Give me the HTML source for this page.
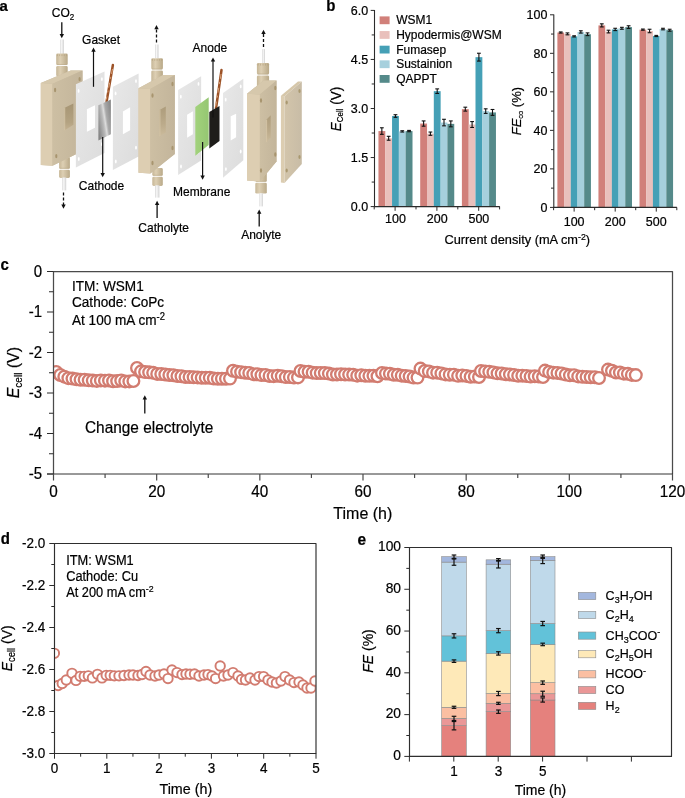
<!DOCTYPE html>
<html><head><meta charset="utf-8"><style>
html,body{margin:0;padding:0;background:#fff;}
svg{display:block;will-change:transform;}
text{font-family:"Liberation Sans", sans-serif;fill:#000;stroke:#000;stroke-width:0.2px;}
</style></head><body>
<svg width="685" height="798" viewBox="0 0 685 798" font-family="Liberation Sans, sans-serif">
<rect width="685" height="798" fill="#fff"/>
<defs>
<linearGradient id="gBeige" x1="0" y1="0" x2="1" y2="0"><stop offset="0" stop-color="#cdbfa3"/><stop offset="1" stop-color="#c3b59b"/></linearGradient>
<linearGradient id="gWin2" x1="0" y1="0" x2="0" y2="1"><stop offset="0" stop-color="#ad9c7b"/><stop offset="0.6" stop-color="#bcab8b"/><stop offset="1" stop-color="#cbbb9c"/></linearGradient>
<linearGradient id="gWin" x1="0" y1="0" x2="0" y2="1"><stop offset="0" stop-color="#a69574"/><stop offset="0.7" stop-color="#b4a382"/><stop offset="1" stop-color="#c4b292"/></linearGradient>
<linearGradient id="gPlate" x1="0" y1="0" x2="1" y2="0"><stop offset="0" stop-color="#d3c5ab"/><stop offset="1" stop-color="#c8bca6"/></linearGradient>
<linearGradient id="gFit" x1="0" y1="0" x2="1" y2="0"><stop offset="0" stop-color="#c6b696"/><stop offset="0.35" stop-color="#ddcfb3"/><stop offset="1" stop-color="#b9a988"/></linearGradient>
<linearGradient id="gTube" x1="0" y1="0" x2="1" y2="0"><stop offset="0" stop-color="#d8d8d8"/><stop offset="0.4" stop-color="#f8f8f8"/><stop offset="1" stop-color="#d0d0d0"/></linearGradient>
<linearGradient id="gGasket" x1="0" y1="0" x2="1" y2="1"><stop offset="0" stop-color="#e8e8e8"/><stop offset="1" stop-color="#dcdcdc"/></linearGradient>
<linearGradient id="gCath" x1="0" y1="0.75" x2="1" y2="0.25"><stop offset="0" stop-color="#858585"/><stop offset="0.38" stop-color="#b9b9b9"/><stop offset="0.52" stop-color="#dcdcdc"/><stop offset="0.66" stop-color="#aaaaaa"/><stop offset="1" stop-color="#8a8a8a"/></linearGradient>
<linearGradient id="gMem" x1="0" y1="0" x2="1" y2="0"><stop offset="0" stop-color="#a2d27c"/><stop offset="1" stop-color="#95c672"/></linearGradient>
</defs>
<g>
<text transform="translate(-0.40,10.90) scale(1,1.030)" font-size="15" text-anchor="start" font-weight="bold">a</text>
<rect x="60.20" y="39.50" width="3.70" height="15.00" fill="url(#gTube)"/>
<rect x="56.20" y="53.50" width="11.50" height="11.60" rx="1.4" fill="url(#gFit)"/>
<rect x="56.20" y="66.00" width="11.50" height="10.50" rx="1.4" fill="url(#gFit)"/>
<rect x="56.70" y="64.10" width="10.50" height="1.0" fill="#bcab8a" opacity="0.6"/>
<line x1="57.35" y1="54.30" x2="57.35" y2="56.10" stroke="#b09e7b" stroke-width="0.6" />
<line x1="59.65" y1="54.30" x2="59.65" y2="56.10" stroke="#b09e7b" stroke-width="0.6" />
<line x1="61.95" y1="54.30" x2="61.95" y2="56.10" stroke="#b09e7b" stroke-width="0.6" />
<line x1="64.25" y1="54.30" x2="64.25" y2="56.10" stroke="#b09e7b" stroke-width="0.6" />
<line x1="66.55" y1="54.30" x2="66.55" y2="56.10" stroke="#b09e7b" stroke-width="0.6" />
<rect x="59.10" y="157.00" width="10.80" height="11.80" rx="1.4" fill="url(#gFit)"/>
<rect x="59.10" y="169.70" width="10.80" height="8.30" rx="1.4" fill="url(#gFit)"/>
<rect x="59.60" y="167.80" width="9.80" height="1.0" fill="#bcab8a" opacity="0.6"/>
<rect x="62.20" y="177.50" width="4.00" height="12.90" fill="url(#gTube)"/>
<polygon points="40.80,83.00 70.80,70.60 82.50,70.60 82.50,151.00 52.50,165.80 40.80,165.00" fill="#cbbda2" />
<polygon points="40.80,83.00 52.50,83.80 52.50,165.80 40.80,165.00" fill="#ddceb2" />
<polygon points="40.80,83.00 70.80,70.60 82.50,70.60 52.50,83.80" fill="#d6c8ac" />
<polygon points="52.50,83.80 82.50,70.60 82.50,151.00 52.50,165.80" fill="url(#gBeige)" />
<polygon points="64.20,108.00 73.40,103.60 73.40,124.80 64.20,130.60" fill="url(#gWin)" />
<polygon points="64.20,108.00 65.20,107.60 65.20,130.20 64.20,130.60" fill="#d3c4a6" />
<ellipse cx="55.10" cy="90.00" rx="1.1" ry="2.2" fill="#a8956f"/>
<ellipse cx="79.60" cy="79.10" rx="1.1" ry="2.2" fill="#a8956f"/>
<ellipse cx="56.30" cy="156.10" rx="1.1" ry="2.2" fill="#a8956f"/>
<ellipse cx="79.50" cy="145.00" rx="1.1" ry="2.2" fill="#a8956f"/>
<polygon points="75.90,84.30 104.50,71.50 104.50,153.00 75.90,167.60" fill="url(#gGasket)" />
<polygon points="86.90,109.30 95.00,105.20 95.00,127.70 86.90,131.80" fill="#ffffff" />
<ellipse cx="78.60" cy="90.90" rx="0.9" ry="1.9" fill="#ffffff"/>
<ellipse cx="101.90" cy="79.10" rx="0.9" ry="1.9" fill="#ffffff"/>
<ellipse cx="78.80" cy="159.00" rx="0.9" ry="1.9" fill="#ffffff"/>
<ellipse cx="101.90" cy="144.20" rx="0.9" ry="1.9" fill="#ffffff"/>
<line x1="112.9" y1="65.0" x2="106.6" y2="101.6" stroke="#9c5227" stroke-width="2.5" stroke-linecap="round"/>
<line x1="112.5" y1="69.0" x2="106.19999999999999" y2="99.6" stroke="#e6b38a" stroke-width="0.9" stroke-dasharray="5,3,2,4" opacity="0.9"/>
<polygon points="98.40,105.20 110.90,99.60 110.90,134.30 98.40,140.50" fill="url(#gCath)" />
<polygon points="112.90,86.80 138.60,73.50 138.60,156.50 112.90,170.10" fill="url(#gGasket)" />
<polygon points="122.90,111.40 130.10,107.30 130.10,130.30 122.90,134.30" fill="#ffffff" />
<ellipse cx="115.60" cy="93.40" rx="0.9" ry="1.9" fill="#ffffff"/>
<ellipse cx="136.00" cy="81.10" rx="0.9" ry="1.9" fill="#ffffff"/>
<ellipse cx="115.80" cy="161.50" rx="0.9" ry="1.9" fill="#ffffff"/>
<ellipse cx="136.00" cy="147.70" rx="0.9" ry="1.9" fill="#ffffff"/>
<rect x="155.00" y="44.50" width="3.50" height="14.00" fill="url(#gTube)"/>
<rect x="151.30" y="58.20" width="11.60" height="11.30" rx="1.4" fill="url(#gFit)"/>
<rect x="151.30" y="70.40" width="11.60" height="11.60" rx="1.4" fill="url(#gFit)"/>
<rect x="151.80" y="68.50" width="10.60" height="1.0" fill="#bcab8a" opacity="0.6"/>
<line x1="152.46" y1="59.00" x2="152.46" y2="60.80" stroke="#b09e7b" stroke-width="0.6" />
<line x1="154.78" y1="59.00" x2="154.78" y2="60.80" stroke="#b09e7b" stroke-width="0.6" />
<line x1="157.10" y1="59.00" x2="157.10" y2="60.80" stroke="#b09e7b" stroke-width="0.6" />
<line x1="159.42" y1="59.00" x2="159.42" y2="60.80" stroke="#b09e7b" stroke-width="0.6" />
<line x1="161.74" y1="59.00" x2="161.74" y2="60.80" stroke="#b09e7b" stroke-width="0.6" />
<rect x="152.30" y="168.00" width="10.50" height="7.80" rx="1.4" fill="url(#gFit)"/>
<rect x="152.30" y="176.70" width="10.50" height="9.30" rx="1.4" fill="url(#gFit)"/>
<rect x="152.80" y="174.80" width="9.50" height="1.0" fill="#bcab8a" opacity="0.6"/>
<rect x="155.00" y="185.30" width="4.40" height="12.30" fill="url(#gTube)"/>
<polygon points="138.50,88.20 163.00,74.90 174.80,74.90 174.80,154.00 150.30,173.60 138.50,172.80" fill="#cbbda2" />
<polygon points="138.50,88.20 150.30,89.00 150.30,173.60 138.50,172.80" fill="#ddceb2" />
<polygon points="138.50,88.20 163.00,74.90 174.80,74.90 150.30,89.00" fill="#d6c8ac" />
<polygon points="150.30,89.00 174.80,74.90 174.80,154.00 150.30,173.60" fill="url(#gBeige)" />
<polygon points="159.40,110.00 165.80,106.60 165.80,132.50 159.40,136.20" fill="url(#gWin2)" />
<polygon points="159.40,110.00 160.40,109.60 160.40,135.80 159.40,136.20" fill="#d3c4a6" />
<ellipse cx="152.50" cy="95.50" rx="1.1" ry="2.2" fill="#a8956f"/>
<ellipse cx="172.50" cy="84.00" rx="1.1" ry="2.2" fill="#a8956f"/>
<ellipse cx="152.50" cy="163.00" rx="1.1" ry="2.2" fill="#a8956f"/>
<ellipse cx="172.50" cy="148.00" rx="1.1" ry="2.2" fill="#a8956f"/>
<polygon points="178.10,90.10 201.10,76.30 201.10,160.50 178.10,175.10" fill="url(#gGasket)" />
<polygon points="187.10,114.80 192.90,111.20 192.90,134.20 187.10,137.80" fill="#ffffff" />
<ellipse cx="180.80" cy="96.70" rx="0.9" ry="1.9" fill="#ffffff"/>
<ellipse cx="198.50" cy="83.90" rx="0.9" ry="1.9" fill="#ffffff"/>
<ellipse cx="181.00" cy="166.50" rx="0.9" ry="1.9" fill="#ffffff"/>
<ellipse cx="198.50" cy="151.70" rx="0.9" ry="1.9" fill="#ffffff"/>
<polygon points="195.30,106.90 208.70,97.20 208.70,145.00 195.30,155.70" fill="url(#gMem)" />
<line x1="221.5" y1="70.0" x2="216.0" y2="108.5" stroke="#9c5227" stroke-width="2.5" stroke-linecap="round"/>
<line x1="221.1" y1="74.0" x2="215.6" y2="106.5" stroke="#e6b38a" stroke-width="0.9" stroke-dasharray="5,3,2,4" opacity="0.9"/>
<polygon points="209.30,112.00 219.50,105.90 219.50,140.90 209.30,148.50" fill="#1e1d1a" />
<polygon points="223.00,93.10 243.30,78.80 243.30,160.30 223.00,177.70" fill="url(#gGasket)" />
<polygon points="230.70,116.30 236.10,113.80 236.10,137.30 230.70,140.40" fill="#ffffff" />
<ellipse cx="225.70" cy="99.70" rx="0.9" ry="1.9" fill="#ffffff"/>
<ellipse cx="240.70" cy="86.40" rx="0.9" ry="1.9" fill="#ffffff"/>
<ellipse cx="225.90" cy="169.10" rx="0.9" ry="1.9" fill="#ffffff"/>
<ellipse cx="240.70" cy="151.50" rx="0.9" ry="1.9" fill="#ffffff"/>
<rect x="262.00" y="49.10" width="3.00" height="14.40" fill="url(#gTube)"/>
<rect x="256.90" y="62.90" width="12.20" height="11.60" rx="1.4" fill="url(#gFit)"/>
<rect x="256.90" y="75.40" width="12.20" height="12.10" rx="1.4" fill="url(#gFit)"/>
<rect x="257.40" y="73.50" width="11.20" height="1.0" fill="#bcab8a" opacity="0.6"/>
<line x1="258.12" y1="63.70" x2="258.12" y2="65.50" stroke="#b09e7b" stroke-width="0.6" />
<line x1="260.56" y1="63.70" x2="260.56" y2="65.50" stroke="#b09e7b" stroke-width="0.6" />
<line x1="263.00" y1="63.70" x2="263.00" y2="65.50" stroke="#b09e7b" stroke-width="0.6" />
<line x1="265.44" y1="63.70" x2="265.44" y2="65.50" stroke="#b09e7b" stroke-width="0.6" />
<line x1="267.88" y1="63.70" x2="267.88" y2="65.50" stroke="#b09e7b" stroke-width="0.6" />
<rect x="255.30" y="172.00" width="11.50" height="9.80" rx="1.4" fill="url(#gFit)"/>
<rect x="255.30" y="182.70" width="11.50" height="10.90" rx="1.4" fill="url(#gFit)"/>
<rect x="255.80" y="180.80" width="10.50" height="1.0" fill="#bcab8a" opacity="0.6"/>
<rect x="259.40" y="193.40" width="3.50" height="13.00" fill="url(#gTube)"/>
<polygon points="247.00,93.70 263.60,80.60 276.50,80.60 276.50,161.50 259.90,181.40 247.00,180.60" fill="#cbbda2" />
<polygon points="247.00,93.70 259.90,94.50 259.90,181.40 247.00,180.60" fill="#ddceb2" />
<polygon points="247.00,93.70 263.60,80.60 276.50,80.60 259.90,94.50" fill="#d6c8ac" />
<polygon points="259.90,94.50 276.50,80.60 276.50,161.50 259.90,181.40" fill="url(#gBeige)" />
<polygon points="266.10,119.90 270.70,115.30 270.70,137.20 266.10,142.30" fill="url(#gWin2)" />
<polygon points="266.10,119.90 267.10,119.50 267.10,141.90 266.10,142.30" fill="#d3c4a6" />
<ellipse cx="261.00" cy="100.50" rx="1.1" ry="2.2" fill="#a8956f"/>
<ellipse cx="275.30" cy="88.00" rx="1.1" ry="2.2" fill="#a8956f"/>
<ellipse cx="261.00" cy="170.50" rx="1.1" ry="2.2" fill="#a8956f"/>
<ellipse cx="275.30" cy="154.50" rx="1.1" ry="2.2" fill="#a8956f"/>
<polygon points="280.90,95.80 284.50,96.30 284.50,183.10 280.90,182.40" fill="#dccdb1" />
<polygon points="280.90,95.80 298.00,81.50 301.80,81.50 284.50,96.30" fill="#d6c7aa" />
<polygon points="284.50,96.30 301.80,81.50 301.80,164.00 284.50,183.10" fill="url(#gPlate)" />
<ellipse cx="286.7" cy="102.5" rx="1.1" ry="2.0" fill="#a99870"/>
<ellipse cx="299.5" cy="91.0" rx="1.1" ry="2.0" fill="#a99870"/>
<ellipse cx="286.7" cy="170.5" rx="1.1" ry="2.0" fill="#a99870"/>
<ellipse cx="299.5" cy="157.0" rx="1.1" ry="2.0" fill="#a99870"/>
<line x1="61.80" y1="22.20" x2="61.80" y2="34.94" stroke="#111" stroke-width="1.3" />
<polygon points="59.60,34.10 64.00,34.10 61.80,38.30" fill="#111" />
<line x1="93.50" y1="86.80" x2="93.50" y2="50.86" stroke="#111" stroke-width="1.2" />
<polygon points="91.30,51.70 95.70,51.70 93.50,47.50" fill="#111" />
<line x1="102.70" y1="137.00" x2="102.70" y2="173.84" stroke="#111" stroke-width="1.2" />
<polygon points="100.50,173.00 104.90,173.00 102.70,177.20" fill="#111" />
<line x1="63.50" y1="192.50" x2="63.50" y2="205.44" stroke="#111" stroke-width="1.3" stroke-dasharray="3,2"/>
<polygon points="61.30,204.60 65.70,204.60 63.50,208.80" fill="#111" />
<line x1="156.50" y1="42.60" x2="156.50" y2="28.36" stroke="#111" stroke-width="1.3" stroke-dasharray="3,2"/>
<polygon points="154.30,29.20 158.70,29.20 156.50,25.00" fill="#111" />
<line x1="157.10" y1="218.00" x2="157.10" y2="204.06" stroke="#111" stroke-width="1.3" />
<polygon points="154.90,204.90 159.30,204.90 157.10,200.70" fill="#111" />
<line x1="213.00" y1="117.40" x2="213.00" y2="60.76" stroke="#111" stroke-width="1.2" />
<polygon points="210.80,61.60 215.20,61.60 213.00,57.40" fill="#111" />
<line x1="202.60" y1="141.90" x2="202.60" y2="176.34" stroke="#111" stroke-width="1.2" />
<polygon points="200.40,175.50 204.80,175.50 202.60,179.70" fill="#111" />
<line x1="263.50" y1="47.10" x2="263.50" y2="33.06" stroke="#111" stroke-width="1.3" stroke-dasharray="3,2"/>
<polygon points="261.30,33.90 265.70,33.90 263.50,29.70" fill="#111" />
<line x1="259.20" y1="226.50" x2="259.20" y2="212.86" stroke="#111" stroke-width="1.3" />
<polygon points="257.00,213.70 261.40,213.70 259.20,209.50" fill="#111" />
<text transform="translate(51.80,17.30) scale(1,1.030)" font-size="12" text-anchor="start" >CO<tspan font-size="8" dy="3">2</tspan></text>
<text transform="translate(82.10,43.60) scale(1,1.030)" font-size="12" text-anchor="start" >Gasket</text>
<text transform="translate(78.80,190.40) scale(1,1.030)" font-size="12" text-anchor="start" >Cathode</text>
<text transform="translate(138.30,231.60) scale(1,1.030)" font-size="12" text-anchor="start" >Catholyte</text>
<text transform="translate(192.60,52.10) scale(1,1.030)" font-size="12" text-anchor="start" >Anode</text>
<text transform="translate(173.00,196.30) scale(1,1.030)" font-size="12" text-anchor="start" >Membrane</text>
<text transform="translate(241.20,238.70) scale(1,1.030)" font-size="12" text-anchor="start" >Anolyte</text>
</g>
<text transform="translate(326.30,11.20) scale(1,1.040)" font-size="15" text-anchor="start" font-weight="bold">b</text>
<rect x="378.45" y="131.06" width="6.85" height="75.54" fill="#d1807a"/>
<rect x="385.25" y="138.26" width="6.85" height="68.34" fill="#e9c0bc"/>
<rect x="392.05" y="116.02" width="6.85" height="90.58" fill="#45a0b6"/>
<rect x="398.85" y="131.39" width="6.85" height="75.21" fill="#a6d0dd"/>
<rect x="405.65" y="131.06" width="6.85" height="75.54" fill="#558a8a"/>
<line x1="381.85" y1="127.79" x2="381.85" y2="134.33" stroke="#111" stroke-width="1.1" />
<line x1="379.95" y1="127.79" x2="383.75" y2="127.79" stroke="#111" stroke-width="1.1" />
<line x1="379.95" y1="134.33" x2="383.75" y2="134.33" stroke="#111" stroke-width="1.1" />
<line x1="388.65" y1="136.30" x2="388.65" y2="140.22" stroke="#111" stroke-width="1.1" />
<line x1="386.75" y1="136.30" x2="390.55" y2="136.30" stroke="#111" stroke-width="1.1" />
<line x1="386.75" y1="140.22" x2="390.55" y2="140.22" stroke="#111" stroke-width="1.1" />
<line x1="395.45" y1="114.71" x2="395.45" y2="117.33" stroke="#111" stroke-width="1.1" />
<line x1="393.55" y1="114.71" x2="397.35" y2="114.71" stroke="#111" stroke-width="1.1" />
<line x1="393.55" y1="117.33" x2="397.35" y2="117.33" stroke="#111" stroke-width="1.1" />
<line x1="402.25" y1="130.74" x2="402.25" y2="132.04" stroke="#111" stroke-width="1.1" />
<line x1="400.35" y1="130.74" x2="404.15" y2="130.74" stroke="#111" stroke-width="1.1" />
<line x1="400.35" y1="132.04" x2="404.15" y2="132.04" stroke="#111" stroke-width="1.1" />
<line x1="409.05" y1="130.41" x2="409.05" y2="131.72" stroke="#111" stroke-width="1.1" />
<line x1="407.15" y1="130.41" x2="410.95" y2="130.41" stroke="#111" stroke-width="1.1" />
<line x1="407.15" y1="131.72" x2="410.95" y2="131.72" stroke="#111" stroke-width="1.1" />
<rect x="420.20" y="123.54" width="6.85" height="83.06" fill="#d1807a"/>
<rect x="427.00" y="133.68" width="6.85" height="72.92" fill="#e9c0bc"/>
<rect x="433.80" y="91.17" width="6.85" height="115.43" fill="#45a0b6"/>
<rect x="440.60" y="122.56" width="6.85" height="84.04" fill="#a6d0dd"/>
<rect x="447.40" y="123.87" width="6.85" height="82.73" fill="#558a8a"/>
<line x1="423.60" y1="120.93" x2="423.60" y2="126.16" stroke="#111" stroke-width="1.1" />
<line x1="421.70" y1="120.93" x2="425.50" y2="120.93" stroke="#111" stroke-width="1.1" />
<line x1="421.70" y1="126.16" x2="425.50" y2="126.16" stroke="#111" stroke-width="1.1" />
<line x1="430.40" y1="132.04" x2="430.40" y2="135.31" stroke="#111" stroke-width="1.1" />
<line x1="428.50" y1="132.04" x2="432.30" y2="132.04" stroke="#111" stroke-width="1.1" />
<line x1="428.50" y1="135.31" x2="432.30" y2="135.31" stroke="#111" stroke-width="1.1" />
<line x1="437.20" y1="88.88" x2="437.20" y2="93.46" stroke="#111" stroke-width="1.1" />
<line x1="435.30" y1="88.88" x2="439.10" y2="88.88" stroke="#111" stroke-width="1.1" />
<line x1="435.30" y1="93.46" x2="439.10" y2="93.46" stroke="#111" stroke-width="1.1" />
<line x1="444.00" y1="119.29" x2="444.00" y2="125.83" stroke="#111" stroke-width="1.1" />
<line x1="442.10" y1="119.29" x2="445.90" y2="119.29" stroke="#111" stroke-width="1.1" />
<line x1="442.10" y1="125.83" x2="445.90" y2="125.83" stroke="#111" stroke-width="1.1" />
<line x1="450.80" y1="120.93" x2="450.80" y2="126.81" stroke="#111" stroke-width="1.1" />
<line x1="448.90" y1="120.93" x2="452.70" y2="120.93" stroke="#111" stroke-width="1.1" />
<line x1="448.90" y1="126.81" x2="452.70" y2="126.81" stroke="#111" stroke-width="1.1" />
<rect x="461.90" y="109.15" width="6.85" height="97.45" fill="#d1807a"/>
<rect x="468.70" y="124.52" width="6.85" height="82.08" fill="#e9c0bc"/>
<rect x="475.50" y="57.16" width="6.85" height="149.44" fill="#45a0b6"/>
<rect x="482.30" y="111.12" width="6.85" height="95.48" fill="#a6d0dd"/>
<rect x="489.10" y="112.42" width="6.85" height="94.18" fill="#558a8a"/>
<line x1="465.30" y1="107.19" x2="465.30" y2="111.12" stroke="#111" stroke-width="1.1" />
<line x1="463.40" y1="107.19" x2="467.20" y2="107.19" stroke="#111" stroke-width="1.1" />
<line x1="463.40" y1="111.12" x2="467.20" y2="111.12" stroke="#111" stroke-width="1.1" />
<line x1="472.10" y1="121.58" x2="472.10" y2="127.47" stroke="#111" stroke-width="1.1" />
<line x1="470.20" y1="121.58" x2="474.00" y2="121.58" stroke="#111" stroke-width="1.1" />
<line x1="470.20" y1="127.47" x2="474.00" y2="127.47" stroke="#111" stroke-width="1.1" />
<line x1="478.90" y1="53.24" x2="478.90" y2="61.09" stroke="#111" stroke-width="1.1" />
<line x1="477.00" y1="53.24" x2="480.80" y2="53.24" stroke="#111" stroke-width="1.1" />
<line x1="477.00" y1="61.09" x2="480.80" y2="61.09" stroke="#111" stroke-width="1.1" />
<line x1="485.70" y1="108.83" x2="485.70" y2="113.41" stroke="#111" stroke-width="1.1" />
<line x1="483.80" y1="108.83" x2="487.60" y2="108.83" stroke="#111" stroke-width="1.1" />
<line x1="483.80" y1="113.41" x2="487.60" y2="113.41" stroke="#111" stroke-width="1.1" />
<line x1="492.50" y1="109.48" x2="492.50" y2="115.37" stroke="#111" stroke-width="1.1" />
<line x1="490.60" y1="109.48" x2="494.40" y2="109.48" stroke="#111" stroke-width="1.1" />
<line x1="490.60" y1="115.37" x2="494.40" y2="115.37" stroke="#111" stroke-width="1.1" />
<line x1="374.50" y1="10.00" x2="374.50" y2="207.10" stroke="#2b2b2b" stroke-width="1.1" />
<line x1="374.00" y1="206.60" x2="499.80" y2="206.60" stroke="#2b2b2b" stroke-width="1.1" />
<line x1="370.70" y1="206.60" x2="374.50" y2="206.60" stroke="#2b2b2b" stroke-width="1.0" />
<text transform="translate(368.20,211.00) scale(1,1.040)" font-size="12.5" text-anchor="end" >0.0</text>
<line x1="371.70" y1="182.07" x2="374.50" y2="182.07" stroke="#2b2b2b" stroke-width="1.0" />
<line x1="370.70" y1="157.55" x2="374.50" y2="157.55" stroke="#2b2b2b" stroke-width="1.0" />
<text transform="translate(368.20,161.95) scale(1,1.040)" font-size="12.5" text-anchor="end" >1.5</text>
<line x1="371.70" y1="133.03" x2="374.50" y2="133.03" stroke="#2b2b2b" stroke-width="1.0" />
<line x1="370.70" y1="108.50" x2="374.50" y2="108.50" stroke="#2b2b2b" stroke-width="1.0" />
<text transform="translate(368.20,112.90) scale(1,1.040)" font-size="12.5" text-anchor="end" >3.0</text>
<line x1="371.70" y1="83.98" x2="374.50" y2="83.98" stroke="#2b2b2b" stroke-width="1.0" />
<line x1="370.70" y1="59.45" x2="374.50" y2="59.45" stroke="#2b2b2b" stroke-width="1.0" />
<text transform="translate(368.20,63.85) scale(1,1.040)" font-size="12.5" text-anchor="end" >4.5</text>
<line x1="371.70" y1="34.93" x2="374.50" y2="34.93" stroke="#2b2b2b" stroke-width="1.0" />
<line x1="370.70" y1="10.40" x2="374.50" y2="10.40" stroke="#2b2b2b" stroke-width="1.0" />
<text transform="translate(368.20,14.80) scale(1,1.040)" font-size="12.5" text-anchor="end" >6.0</text>
<line x1="374.20" y1="206.60" x2="374.20" y2="209.40" stroke="#2b2b2b" stroke-width="1.0" />
<line x1="395.10" y1="206.60" x2="395.10" y2="210.80" stroke="#2b2b2b" stroke-width="1.0" />
<line x1="416.00" y1="206.60" x2="416.00" y2="209.40" stroke="#2b2b2b" stroke-width="1.0" />
<line x1="436.90" y1="206.60" x2="436.90" y2="210.80" stroke="#2b2b2b" stroke-width="1.0" />
<line x1="457.80" y1="206.60" x2="457.80" y2="209.40" stroke="#2b2b2b" stroke-width="1.0" />
<line x1="478.70" y1="206.60" x2="478.70" y2="210.80" stroke="#2b2b2b" stroke-width="1.0" />
<line x1="499.60" y1="206.60" x2="499.60" y2="209.40" stroke="#2b2b2b" stroke-width="1.0" />
<text transform="translate(395.45,223.30) scale(1,1.040)" font-size="12.5" text-anchor="middle" >100</text>
<text transform="translate(437.20,223.30) scale(1,1.040)" font-size="12.5" text-anchor="middle" >200</text>
<text transform="translate(478.90,223.30) scale(1,1.040)" font-size="12.5" text-anchor="middle" >500</text>
<text transform="translate(340.60,109.00) rotate(-90) scale(1,1.040)" font-size="13.5" text-anchor="middle" ><tspan font-style="italic">E</tspan><tspan font-size="8" dy="2.5">Cell</tspan><tspan dy="-2.5"> (V)</tspan></text>
<rect x="379.6" y="16.40" width="10" height="7.8" fill="#d1807a"/>
<text transform="translate(396.20,24.40) scale(1,1.040)" font-size="12.0" text-anchor="start" >WSM1</text>
<rect x="379.6" y="31.05" width="10" height="7.8" fill="#e9c0bc"/>
<text transform="translate(396.20,39.05) scale(1,1.040)" font-size="12.0" text-anchor="start" >Hypodermis@WSM</text>
<rect x="379.6" y="45.70" width="10" height="7.8" fill="#45a0b6"/>
<text transform="translate(396.20,53.70) scale(1,1.040)" font-size="12.0" text-anchor="start" >Fumasep</text>
<rect x="379.6" y="60.35" width="10" height="7.8" fill="#a6d0dd"/>
<text transform="translate(396.20,68.35) scale(1,1.040)" font-size="12.0" text-anchor="start" >Sustainion</text>
<rect x="379.6" y="75.00" width="10" height="7.8" fill="#558a8a"/>
<text transform="translate(396.20,83.00) scale(1,1.040)" font-size="12.0" text-anchor="start" >QAPPT</text>
<rect x="557.38" y="32.52" width="6.75" height="174.88" fill="#d1807a"/>
<rect x="564.08" y="33.87" width="6.75" height="173.53" fill="#e9c0bc"/>
<rect x="570.78" y="36.37" width="6.75" height="171.03" fill="#45a0b6"/>
<rect x="577.48" y="31.94" width="6.75" height="175.46" fill="#a6d0dd"/>
<rect x="584.18" y="34.25" width="6.75" height="173.15" fill="#558a8a"/>
<line x1="560.73" y1="31.94" x2="560.73" y2="33.10" stroke="#111" stroke-width="1.1" />
<line x1="558.83" y1="31.94" x2="562.63" y2="31.94" stroke="#111" stroke-width="1.1" />
<line x1="558.83" y1="33.10" x2="562.63" y2="33.10" stroke="#111" stroke-width="1.1" />
<line x1="567.43" y1="32.90" x2="567.43" y2="34.83" stroke="#111" stroke-width="1.1" />
<line x1="565.53" y1="32.90" x2="569.33" y2="32.90" stroke="#111" stroke-width="1.1" />
<line x1="565.53" y1="34.83" x2="569.33" y2="34.83" stroke="#111" stroke-width="1.1" />
<line x1="574.13" y1="35.79" x2="574.13" y2="36.95" stroke="#111" stroke-width="1.1" />
<line x1="572.23" y1="35.79" x2="576.03" y2="35.79" stroke="#111" stroke-width="1.1" />
<line x1="572.23" y1="36.95" x2="576.03" y2="36.95" stroke="#111" stroke-width="1.1" />
<line x1="580.83" y1="30.79" x2="580.83" y2="33.10" stroke="#111" stroke-width="1.1" />
<line x1="578.93" y1="30.79" x2="582.73" y2="30.79" stroke="#111" stroke-width="1.1" />
<line x1="578.93" y1="33.10" x2="582.73" y2="33.10" stroke="#111" stroke-width="1.1" />
<line x1="587.53" y1="32.90" x2="587.53" y2="35.60" stroke="#111" stroke-width="1.1" />
<line x1="585.63" y1="32.90" x2="589.43" y2="32.90" stroke="#111" stroke-width="1.1" />
<line x1="585.63" y1="35.60" x2="589.43" y2="35.60" stroke="#111" stroke-width="1.1" />
<rect x="598.45" y="25.39" width="6.75" height="182.01" fill="#d1807a"/>
<rect x="605.15" y="31.56" width="6.75" height="175.84" fill="#e9c0bc"/>
<rect x="611.85" y="29.44" width="6.75" height="177.96" fill="#45a0b6"/>
<rect x="618.55" y="28.28" width="6.75" height="179.12" fill="#a6d0dd"/>
<rect x="625.25" y="27.13" width="6.75" height="180.27" fill="#558a8a"/>
<line x1="601.80" y1="23.85" x2="601.80" y2="26.93" stroke="#111" stroke-width="1.1" />
<line x1="599.90" y1="23.85" x2="603.70" y2="23.85" stroke="#111" stroke-width="1.1" />
<line x1="599.90" y1="26.93" x2="603.70" y2="26.93" stroke="#111" stroke-width="1.1" />
<line x1="608.50" y1="30.21" x2="608.50" y2="32.90" stroke="#111" stroke-width="1.1" />
<line x1="606.60" y1="30.21" x2="610.40" y2="30.21" stroke="#111" stroke-width="1.1" />
<line x1="606.60" y1="32.90" x2="610.40" y2="32.90" stroke="#111" stroke-width="1.1" />
<line x1="615.20" y1="28.28" x2="615.20" y2="30.59" stroke="#111" stroke-width="1.1" />
<line x1="613.30" y1="28.28" x2="617.10" y2="28.28" stroke="#111" stroke-width="1.1" />
<line x1="613.30" y1="30.59" x2="617.10" y2="30.59" stroke="#111" stroke-width="1.1" />
<line x1="621.90" y1="27.32" x2="621.90" y2="29.25" stroke="#111" stroke-width="1.1" />
<line x1="620.00" y1="27.32" x2="623.80" y2="27.32" stroke="#111" stroke-width="1.1" />
<line x1="620.00" y1="29.25" x2="623.80" y2="29.25" stroke="#111" stroke-width="1.1" />
<line x1="628.60" y1="25.78" x2="628.60" y2="28.47" stroke="#111" stroke-width="1.1" />
<line x1="626.70" y1="25.78" x2="630.50" y2="25.78" stroke="#111" stroke-width="1.1" />
<line x1="626.70" y1="28.47" x2="630.50" y2="28.47" stroke="#111" stroke-width="1.1" />
<rect x="639.52" y="29.63" width="6.75" height="177.77" fill="#d1807a"/>
<rect x="646.22" y="30.98" width="6.75" height="176.42" fill="#e9c0bc"/>
<rect x="652.92" y="35.99" width="6.75" height="171.41" fill="#45a0b6"/>
<rect x="659.62" y="29.05" width="6.75" height="178.35" fill="#a6d0dd"/>
<rect x="666.32" y="30.21" width="6.75" height="177.19" fill="#558a8a"/>
<line x1="642.87" y1="29.05" x2="642.87" y2="30.21" stroke="#111" stroke-width="1.1" />
<line x1="640.97" y1="29.05" x2="644.77" y2="29.05" stroke="#111" stroke-width="1.1" />
<line x1="640.97" y1="30.21" x2="644.77" y2="30.21" stroke="#111" stroke-width="1.1" />
<line x1="649.57" y1="29.25" x2="649.57" y2="32.71" stroke="#111" stroke-width="1.1" />
<line x1="647.67" y1="29.25" x2="651.47" y2="29.25" stroke="#111" stroke-width="1.1" />
<line x1="647.67" y1="32.71" x2="651.47" y2="32.71" stroke="#111" stroke-width="1.1" />
<line x1="656.27" y1="35.41" x2="656.27" y2="36.56" stroke="#111" stroke-width="1.1" />
<line x1="654.37" y1="35.41" x2="658.17" y2="35.41" stroke="#111" stroke-width="1.1" />
<line x1="654.37" y1="36.56" x2="658.17" y2="36.56" stroke="#111" stroke-width="1.1" />
<line x1="662.97" y1="28.28" x2="662.97" y2="29.82" stroke="#111" stroke-width="1.1" />
<line x1="661.07" y1="28.28" x2="664.87" y2="28.28" stroke="#111" stroke-width="1.1" />
<line x1="661.07" y1="29.82" x2="664.87" y2="29.82" stroke="#111" stroke-width="1.1" />
<line x1="669.67" y1="29.25" x2="669.67" y2="31.17" stroke="#111" stroke-width="1.1" />
<line x1="667.77" y1="29.25" x2="671.57" y2="29.25" stroke="#111" stroke-width="1.1" />
<line x1="667.77" y1="31.17" x2="671.57" y2="31.17" stroke="#111" stroke-width="1.1" />
<line x1="553.80" y1="14.40" x2="553.80" y2="207.90" stroke="#2b2b2b" stroke-width="1.1" />
<line x1="553.30" y1="207.40" x2="676.90" y2="207.40" stroke="#2b2b2b" stroke-width="1.1" />
<line x1="550.00" y1="207.40" x2="553.80" y2="207.40" stroke="#2b2b2b" stroke-width="1.0" />
<text transform="translate(547.40,211.80) scale(1,1.040)" font-size="12.5" text-anchor="end" >0</text>
<line x1="551.00" y1="188.14" x2="553.80" y2="188.14" stroke="#2b2b2b" stroke-width="1.0" />
<line x1="550.00" y1="168.88" x2="553.80" y2="168.88" stroke="#2b2b2b" stroke-width="1.0" />
<text transform="translate(547.40,173.28) scale(1,1.040)" font-size="12.5" text-anchor="end" >20</text>
<line x1="551.00" y1="149.62" x2="553.80" y2="149.62" stroke="#2b2b2b" stroke-width="1.0" />
<line x1="550.00" y1="130.36" x2="553.80" y2="130.36" stroke="#2b2b2b" stroke-width="1.0" />
<text transform="translate(547.40,134.76) scale(1,1.040)" font-size="12.5" text-anchor="end" >40</text>
<line x1="551.00" y1="111.10" x2="553.80" y2="111.10" stroke="#2b2b2b" stroke-width="1.0" />
<line x1="550.00" y1="91.84" x2="553.80" y2="91.84" stroke="#2b2b2b" stroke-width="1.0" />
<text transform="translate(547.40,96.24) scale(1,1.040)" font-size="12.5" text-anchor="end" >60</text>
<line x1="551.00" y1="72.58" x2="553.80" y2="72.58" stroke="#2b2b2b" stroke-width="1.0" />
<line x1="550.00" y1="53.32" x2="553.80" y2="53.32" stroke="#2b2b2b" stroke-width="1.0" />
<text transform="translate(547.40,57.72) scale(1,1.040)" font-size="12.5" text-anchor="end" >80</text>
<line x1="551.00" y1="34.06" x2="553.80" y2="34.06" stroke="#2b2b2b" stroke-width="1.0" />
<line x1="550.00" y1="14.80" x2="553.80" y2="14.80" stroke="#2b2b2b" stroke-width="1.0" />
<text transform="translate(547.40,19.20) scale(1,1.040)" font-size="12.5" text-anchor="end" >100</text>
<line x1="553.60" y1="207.40" x2="553.60" y2="210.20" stroke="#2b2b2b" stroke-width="1.0" />
<line x1="574.13" y1="207.40" x2="574.13" y2="211.60" stroke="#2b2b2b" stroke-width="1.0" />
<line x1="594.67" y1="207.40" x2="594.67" y2="210.20" stroke="#2b2b2b" stroke-width="1.0" />
<line x1="615.20" y1="207.40" x2="615.20" y2="211.60" stroke="#2b2b2b" stroke-width="1.0" />
<line x1="635.73" y1="207.40" x2="635.73" y2="210.20" stroke="#2b2b2b" stroke-width="1.0" />
<line x1="656.27" y1="207.40" x2="656.27" y2="211.60" stroke="#2b2b2b" stroke-width="1.0" />
<line x1="676.80" y1="207.40" x2="676.80" y2="210.20" stroke="#2b2b2b" stroke-width="1.0" />
<text transform="translate(574.13,225.80) scale(1,1.040)" font-size="12.5" text-anchor="middle" >100</text>
<text transform="translate(615.20,225.80) scale(1,1.040)" font-size="12.5" text-anchor="middle" >200</text>
<text transform="translate(656.27,225.80) scale(1,1.040)" font-size="12.5" text-anchor="middle" >500</text>
<text transform="translate(520.60,111.10) rotate(-90) scale(1,1.040)" font-size="13" text-anchor="middle" ><tspan font-style="italic">FE</tspan><tspan font-size="7.5" dy="2.5">co</tspan><tspan dy="-2.5"> (%)</tspan></text>
<text transform="translate(444.40,244.30) scale(1,1.040)" font-size="12.8" text-anchor="start" >Current density (mA cm<tspan font-size="8.8" dy="-4.6">-2</tspan><tspan dy="4.6">)</tspan></text>
<text transform="translate(0.50,269.50) scale(1,1.080)" font-size="15" text-anchor="start" font-weight="bold">c</text>
<clipPath id="clipC"><rect x="53.4" y="271.9" width="619" height="202"/></clipPath>
<g clip-path="url(#clipC)" fill="#ffffff" stroke="#d27c70" stroke-width="2.3">
<circle cx="56.20" cy="372.00" r="5.85"/>
<circle cx="60.26" cy="374.96" r="5.85"/>
<circle cx="64.33" cy="376.64" r="5.85"/>
<circle cx="68.39" cy="378.14" r="5.85"/>
<circle cx="72.45" cy="378.59" r="5.85"/>
<circle cx="76.52" cy="379.26" r="5.85"/>
<circle cx="80.58" cy="379.80" r="5.85"/>
<circle cx="84.64" cy="379.78" r="5.85"/>
<circle cx="88.71" cy="380.33" r="5.85"/>
<circle cx="92.77" cy="380.62" r="5.85"/>
<circle cx="96.83" cy="380.91" r="5.85"/>
<circle cx="100.89" cy="380.38" r="5.85"/>
<circle cx="104.96" cy="380.64" r="5.85"/>
<circle cx="109.02" cy="380.50" r="5.85"/>
<circle cx="113.08" cy="381.19" r="5.85"/>
<circle cx="117.15" cy="381.12" r="5.85"/>
<circle cx="121.21" cy="380.55" r="5.85"/>
<circle cx="125.27" cy="381.41" r="5.85"/>
<circle cx="129.34" cy="381.41" r="5.85"/>
<circle cx="133.40" cy="381.00" r="5.85"/>
<circle cx="137.00" cy="368.00" r="5.85"/>
<circle cx="141.04" cy="371.34" r="5.85"/>
<circle cx="145.09" cy="372.06" r="5.85"/>
<circle cx="149.13" cy="372.34" r="5.85"/>
<circle cx="153.17" cy="372.84" r="5.85"/>
<circle cx="157.22" cy="373.88" r="5.85"/>
<circle cx="161.26" cy="373.98" r="5.85"/>
<circle cx="165.30" cy="374.57" r="5.85"/>
<circle cx="169.35" cy="375.05" r="5.85"/>
<circle cx="173.39" cy="375.25" r="5.85"/>
<circle cx="177.43" cy="376.00" r="5.85"/>
<circle cx="181.48" cy="376.31" r="5.85"/>
<circle cx="185.52" cy="376.97" r="5.85"/>
<circle cx="189.57" cy="376.95" r="5.85"/>
<circle cx="193.61" cy="377.30" r="5.85"/>
<circle cx="197.65" cy="377.40" r="5.85"/>
<circle cx="201.70" cy="377.75" r="5.85"/>
<circle cx="205.74" cy="377.75" r="5.85"/>
<circle cx="209.78" cy="377.76" r="5.85"/>
<circle cx="213.83" cy="378.56" r="5.85"/>
<circle cx="217.87" cy="378.70" r="5.85"/>
<circle cx="221.91" cy="378.68" r="5.85"/>
<circle cx="225.96" cy="378.68" r="5.85"/>
<circle cx="230.00" cy="378.60" r="5.85"/>
<circle cx="233.00" cy="370.80" r="5.85"/>
<circle cx="237.06" cy="371.63" r="5.85"/>
<circle cx="241.12" cy="372.15" r="5.85"/>
<circle cx="245.19" cy="372.75" r="5.85"/>
<circle cx="249.25" cy="373.06" r="5.85"/>
<circle cx="253.31" cy="374.16" r="5.85"/>
<circle cx="257.38" cy="374.28" r="5.85"/>
<circle cx="261.44" cy="375.09" r="5.85"/>
<circle cx="265.50" cy="375.06" r="5.85"/>
<circle cx="269.56" cy="375.93" r="5.85"/>
<circle cx="273.62" cy="376.16" r="5.85"/>
<circle cx="277.69" cy="375.70" r="5.85"/>
<circle cx="281.75" cy="376.18" r="5.85"/>
<circle cx="285.81" cy="377.08" r="5.85"/>
<circle cx="289.88" cy="376.93" r="5.85"/>
<circle cx="293.94" cy="377.62" r="5.85"/>
<circle cx="298.00" cy="377.40" r="5.85"/>
<circle cx="300.50" cy="371.00" r="5.85"/>
<circle cx="304.55" cy="371.71" r="5.85"/>
<circle cx="308.61" cy="371.79" r="5.85"/>
<circle cx="312.66" cy="372.64" r="5.85"/>
<circle cx="316.71" cy="373.11" r="5.85"/>
<circle cx="320.76" cy="372.96" r="5.85"/>
<circle cx="324.82" cy="373.10" r="5.85"/>
<circle cx="328.87" cy="373.60" r="5.85"/>
<circle cx="332.92" cy="374.44" r="5.85"/>
<circle cx="336.97" cy="374.51" r="5.85"/>
<circle cx="341.03" cy="374.18" r="5.85"/>
<circle cx="345.08" cy="374.52" r="5.85"/>
<circle cx="349.13" cy="374.61" r="5.85"/>
<circle cx="353.18" cy="374.78" r="5.85"/>
<circle cx="357.24" cy="375.63" r="5.85"/>
<circle cx="361.29" cy="375.26" r="5.85"/>
<circle cx="365.34" cy="375.78" r="5.85"/>
<circle cx="369.39" cy="375.85" r="5.85"/>
<circle cx="373.45" cy="375.77" r="5.85"/>
<circle cx="377.50" cy="376.20" r="5.85"/>
<circle cx="382.00" cy="373.00" r="5.85"/>
<circle cx="385.94" cy="373.61" r="5.85"/>
<circle cx="389.89" cy="373.70" r="5.85"/>
<circle cx="393.83" cy="374.76" r="5.85"/>
<circle cx="397.78" cy="374.85" r="5.85"/>
<circle cx="401.72" cy="375.66" r="5.85"/>
<circle cx="405.67" cy="375.98" r="5.85"/>
<circle cx="409.61" cy="376.51" r="5.85"/>
<circle cx="413.56" cy="377.59" r="5.85"/>
<circle cx="417.50" cy="377.60" r="5.85"/>
<circle cx="420.50" cy="368.60" r="5.85"/>
<circle cx="424.68" cy="371.07" r="5.85"/>
<circle cx="428.86" cy="371.40" r="5.85"/>
<circle cx="433.04" cy="372.63" r="5.85"/>
<circle cx="437.21" cy="372.67" r="5.85"/>
<circle cx="441.39" cy="373.42" r="5.85"/>
<circle cx="445.57" cy="374.38" r="5.85"/>
<circle cx="449.75" cy="374.68" r="5.85"/>
<circle cx="453.93" cy="374.64" r="5.85"/>
<circle cx="458.11" cy="375.85" r="5.85"/>
<circle cx="462.29" cy="375.53" r="5.85"/>
<circle cx="466.46" cy="375.92" r="5.85"/>
<circle cx="470.64" cy="376.70" r="5.85"/>
<circle cx="474.82" cy="376.58" r="5.85"/>
<circle cx="479.00" cy="377.00" r="5.85"/>
<circle cx="481.00" cy="371.00" r="5.85"/>
<circle cx="485.13" cy="371.42" r="5.85"/>
<circle cx="489.27" cy="371.81" r="5.85"/>
<circle cx="493.40" cy="372.38" r="5.85"/>
<circle cx="497.53" cy="373.34" r="5.85"/>
<circle cx="501.67" cy="373.51" r="5.85"/>
<circle cx="505.80" cy="374.28" r="5.85"/>
<circle cx="509.93" cy="374.48" r="5.85"/>
<circle cx="514.07" cy="374.94" r="5.85"/>
<circle cx="518.20" cy="375.75" r="5.85"/>
<circle cx="522.33" cy="375.65" r="5.85"/>
<circle cx="526.47" cy="376.04" r="5.85"/>
<circle cx="530.60" cy="376.59" r="5.85"/>
<circle cx="534.73" cy="376.24" r="5.85"/>
<circle cx="538.87" cy="376.46" r="5.85"/>
<circle cx="543.00" cy="377.00" r="5.85"/>
<circle cx="545.00" cy="370.60" r="5.85"/>
<circle cx="549.15" cy="371.97" r="5.85"/>
<circle cx="553.31" cy="372.67" r="5.85"/>
<circle cx="557.46" cy="372.88" r="5.85"/>
<circle cx="561.62" cy="373.49" r="5.85"/>
<circle cx="565.77" cy="374.61" r="5.85"/>
<circle cx="569.92" cy="375.37" r="5.85"/>
<circle cx="574.08" cy="375.24" r="5.85"/>
<circle cx="578.23" cy="376.41" r="5.85"/>
<circle cx="582.38" cy="376.81" r="5.85"/>
<circle cx="586.54" cy="376.99" r="5.85"/>
<circle cx="590.69" cy="377.22" r="5.85"/>
<circle cx="594.85" cy="377.30" r="5.85"/>
<circle cx="599.00" cy="378.00" r="5.85"/>
<circle cx="608.00" cy="369.60" r="5.85"/>
<circle cx="611.97" cy="370.78" r="5.85"/>
<circle cx="615.94" cy="372.47" r="5.85"/>
<circle cx="619.91" cy="372.57" r="5.85"/>
<circle cx="623.89" cy="373.67" r="5.85"/>
<circle cx="627.86" cy="373.87" r="5.85"/>
<circle cx="631.83" cy="374.91" r="5.85"/>
<circle cx="635.80" cy="375.10" r="5.85"/>
</g>
<path d="M53.5,474.0 L53.5,271.5 L672.5,271.5 L672.5,474.0" fill="none" stroke="#4a4a4a" stroke-width="1.25" stroke-linejoin="round"/>
<line x1="47.00" y1="474.00" x2="673.00" y2="474.00" stroke="#333" stroke-width="1.0" />
<line x1="47.00" y1="271.50" x2="53.50" y2="271.50" stroke="#2b2b2b" stroke-width="1.0" />
<text transform="translate(42.00,276.70) scale(1,1.080)" font-size="15" text-anchor="end" >0</text>
<line x1="49.00" y1="291.75" x2="53.50" y2="291.75" stroke="#2b2b2b" stroke-width="1.0" />
<line x1="47.00" y1="312.00" x2="53.50" y2="312.00" stroke="#2b2b2b" stroke-width="1.0" />
<text transform="translate(42.00,317.20) scale(1,1.080)" font-size="15" text-anchor="end" >-1</text>
<line x1="49.00" y1="332.25" x2="53.50" y2="332.25" stroke="#2b2b2b" stroke-width="1.0" />
<line x1="47.00" y1="352.50" x2="53.50" y2="352.50" stroke="#2b2b2b" stroke-width="1.0" />
<text transform="translate(42.00,357.70) scale(1,1.080)" font-size="15" text-anchor="end" >-2</text>
<line x1="49.00" y1="372.75" x2="53.50" y2="372.75" stroke="#2b2b2b" stroke-width="1.0" />
<line x1="47.00" y1="393.00" x2="53.50" y2="393.00" stroke="#2b2b2b" stroke-width="1.0" />
<text transform="translate(42.00,398.20) scale(1,1.080)" font-size="15" text-anchor="end" >-3</text>
<line x1="49.00" y1="413.25" x2="53.50" y2="413.25" stroke="#2b2b2b" stroke-width="1.0" />
<line x1="47.00" y1="433.50" x2="53.50" y2="433.50" stroke="#2b2b2b" stroke-width="1.0" />
<text transform="translate(42.00,438.70) scale(1,1.080)" font-size="15" text-anchor="end" >-4</text>
<line x1="49.00" y1="453.75" x2="53.50" y2="453.75" stroke="#2b2b2b" stroke-width="1.0" />
<line x1="47.00" y1="474.00" x2="53.50" y2="474.00" stroke="#2b2b2b" stroke-width="1.0" />
<text transform="translate(42.00,479.20) scale(1,1.080)" font-size="15" text-anchor="end" >-5</text>
<line x1="53.50" y1="474.00" x2="53.50" y2="480.50" stroke="#4a4a4a" stroke-width="1.2" />
<text transform="translate(53.50,496.60) scale(1,1.080)" font-size="15.3" text-anchor="middle" >0</text>
<line x1="105.08" y1="474.00" x2="105.08" y2="478.00" stroke="#4a4a4a" stroke-width="1.2" />
<line x1="156.67" y1="474.00" x2="156.67" y2="480.50" stroke="#4a4a4a" stroke-width="1.2" />
<text transform="translate(156.67,496.60) scale(1,1.080)" font-size="15.3" text-anchor="middle" >20</text>
<line x1="208.25" y1="474.00" x2="208.25" y2="478.00" stroke="#4a4a4a" stroke-width="1.2" />
<line x1="259.83" y1="474.00" x2="259.83" y2="480.50" stroke="#4a4a4a" stroke-width="1.2" />
<text transform="translate(259.83,496.60) scale(1,1.080)" font-size="15.3" text-anchor="middle" >40</text>
<line x1="311.42" y1="474.00" x2="311.42" y2="478.00" stroke="#4a4a4a" stroke-width="1.2" />
<line x1="363.00" y1="474.00" x2="363.00" y2="480.50" stroke="#4a4a4a" stroke-width="1.2" />
<text transform="translate(363.00,496.60) scale(1,1.080)" font-size="15.3" text-anchor="middle" >60</text>
<line x1="414.58" y1="474.00" x2="414.58" y2="478.00" stroke="#4a4a4a" stroke-width="1.2" />
<line x1="466.17" y1="474.00" x2="466.17" y2="480.50" stroke="#4a4a4a" stroke-width="1.2" />
<text transform="translate(466.17,496.60) scale(1,1.080)" font-size="15.3" text-anchor="middle" >80</text>
<line x1="517.75" y1="474.00" x2="517.75" y2="478.00" stroke="#4a4a4a" stroke-width="1.2" />
<line x1="569.33" y1="474.00" x2="569.33" y2="480.50" stroke="#4a4a4a" stroke-width="1.2" />
<text transform="translate(569.33,496.60) scale(1,1.080)" font-size="15.3" text-anchor="middle" >100</text>
<line x1="620.92" y1="474.00" x2="620.92" y2="478.00" stroke="#4a4a4a" stroke-width="1.2" />
<line x1="672.50" y1="474.00" x2="672.50" y2="480.50" stroke="#4a4a4a" stroke-width="1.2" />
<text transform="translate(672.50,496.60) scale(1,1.080)" font-size="15.3" text-anchor="middle" >120</text>
<text transform="translate(362.80,518.80) scale(1,1.080)" font-size="16" text-anchor="middle" >Time (h)</text>
<text transform="translate(18.60,372.60) rotate(-90) scale(1,1.080)" font-size="16" text-anchor="middle" ><tspan font-style="italic">E</tspan><tspan font-size="10" dy="3">cell</tspan><tspan dy="-3"> (V)</tspan></text>
<text transform="translate(72.00,290.60) scale(1,1.080)" font-size="13.6" text-anchor="start" >ITM: WSM1</text>
<text transform="translate(72.00,307.00) scale(1,1.080)" font-size="13.6" text-anchor="start" >Cathode: CoPc</text>
<text transform="translate(72.00,325.30) scale(1,1.080)" font-size="13.6" text-anchor="start" >At 100 mA cm<tspan font-size="9.4" dy="-5.2">-2</tspan></text>
<line x1="144.80" y1="413.50" x2="144.80" y2="398.56" stroke="#111" stroke-width="1.3" />
<polygon points="142.60,399.40 147.00,399.40 144.80,395.20" fill="#111" />
<text transform="translate(85.00,432.70) scale(1,1.080)" font-size="15.4" text-anchor="start" >Change electrolyte</text>
<text transform="translate(0.70,543.50) scale(1,1.080)" font-size="15" text-anchor="start" font-weight="bold">d</text>
<clipPath id="clipD"><rect x="54.6" y="543.4" width="261" height="210.2"/></clipPath>
<g clip-path="url(#clipD)" fill="#ffffff" stroke="#d27c70" stroke-width="1.95">
<circle cx="54.40" cy="653.30" r="4.7"/>
<circle cx="58.10" cy="685.50" r="4.7"/>
<circle cx="62.20" cy="683.50" r="4.7"/>
<circle cx="66.30" cy="680.00" r="4.7"/>
<circle cx="72.00" cy="673.30" r="4.7"/>
<circle cx="76.00" cy="680.40" r="4.7"/>
<circle cx="80.10" cy="676.30" r="4.7"/>
<circle cx="84.20" cy="676.30" r="4.7"/>
<circle cx="88.30" cy="675.80" r="4.7"/>
<circle cx="92.40" cy="677.90" r="4.7"/>
<circle cx="97.50" cy="674.30" r="4.7"/>
<circle cx="102.00" cy="677.90" r="4.7"/>
<circle cx="106.20" cy="675.30" r="4.7"/>
<circle cx="110.20" cy="675.30" r="4.7"/>
<circle cx="114.30" cy="675.80" r="4.7"/>
<circle cx="119.00" cy="675.80" r="4.7"/>
<circle cx="124.00" cy="675.50" r="4.7"/>
<circle cx="129.00" cy="675.00" r="4.7"/>
<circle cx="133.00" cy="675.00" r="4.7"/>
<circle cx="138.00" cy="675.50" r="4.7"/>
<circle cx="142.00" cy="674.50" r="4.7"/>
<circle cx="146.00" cy="671.50" r="4.7"/>
<circle cx="150.00" cy="675.00" r="4.7"/>
<circle cx="155.00" cy="676.00" r="4.7"/>
<circle cx="159.00" cy="675.00" r="4.7"/>
<circle cx="164.00" cy="674.00" r="4.7"/>
<circle cx="168.00" cy="678.60" r="4.7"/>
<circle cx="172.00" cy="670.00" r="4.7"/>
<circle cx="177.00" cy="672.60" r="4.7"/>
<circle cx="182.00" cy="674.60" r="4.7"/>
<circle cx="186.00" cy="674.00" r="4.7"/>
<circle cx="190.00" cy="674.20" r="4.7"/>
<circle cx="194.50" cy="674.00" r="4.7"/>
<circle cx="199.00" cy="676.00" r="4.7"/>
<circle cx="204.00" cy="675.00" r="4.7"/>
<circle cx="208.00" cy="674.60" r="4.7"/>
<circle cx="212.00" cy="676.00" r="4.7"/>
<circle cx="215.60" cy="678.60" r="4.7"/>
<circle cx="220.20" cy="666.00" r="4.7"/>
<circle cx="223.50" cy="676.00" r="4.7"/>
<circle cx="228.00" cy="675.00" r="4.7"/>
<circle cx="233.00" cy="672.60" r="4.7"/>
<circle cx="238.00" cy="676.00" r="4.7"/>
<circle cx="241.50" cy="679.40" r="4.7"/>
<circle cx="245.50" cy="680.00" r="4.7"/>
<circle cx="250.00" cy="678.00" r="4.7"/>
<circle cx="255.00" cy="680.00" r="4.7"/>
<circle cx="259.00" cy="676.60" r="4.7"/>
<circle cx="263.60" cy="676.60" r="4.7"/>
<circle cx="268.00" cy="680.00" r="4.7"/>
<circle cx="272.00" cy="682.00" r="4.7"/>
<circle cx="276.40" cy="683.00" r="4.7"/>
<circle cx="281.00" cy="681.00" r="4.7"/>
<circle cx="285.00" cy="676.60" r="4.7"/>
<circle cx="289.60" cy="680.00" r="4.7"/>
<circle cx="294.00" cy="682.60" r="4.7"/>
<circle cx="299.00" cy="682.00" r="4.7"/>
<circle cx="303.00" cy="685.00" r="4.7"/>
<circle cx="307.00" cy="688.00" r="4.7"/>
<circle cx="311.00" cy="688.00" r="4.7"/>
<circle cx="315.00" cy="681.00" r="4.7"/>
</g>
<path d="M54.5,543.5 L316.0,543.5 L316.0,753.5 L54.5,753.5 Z" fill="none" stroke="#2e2e2e" stroke-width="1.15" stroke-linejoin="round"/>
<line x1="49.30" y1="543.50" x2="54.50" y2="543.50" stroke="#2b2b2b" stroke-width="1.0" />
<text transform="translate(45.20,548.30) scale(1,1.080)" font-size="13.5" text-anchor="end" >-2.0</text>
<line x1="51.30" y1="564.50" x2="54.50" y2="564.50" stroke="#2b2b2b" stroke-width="1.0" />
<line x1="49.30" y1="585.50" x2="54.50" y2="585.50" stroke="#2b2b2b" stroke-width="1.0" />
<text transform="translate(45.20,590.30) scale(1,1.080)" font-size="13.5" text-anchor="end" >-2.2</text>
<line x1="51.30" y1="606.50" x2="54.50" y2="606.50" stroke="#2b2b2b" stroke-width="1.0" />
<line x1="49.30" y1="627.50" x2="54.50" y2="627.50" stroke="#2b2b2b" stroke-width="1.0" />
<text transform="translate(45.20,632.30) scale(1,1.080)" font-size="13.5" text-anchor="end" >-2.4</text>
<line x1="51.30" y1="648.50" x2="54.50" y2="648.50" stroke="#2b2b2b" stroke-width="1.0" />
<line x1="49.30" y1="669.50" x2="54.50" y2="669.50" stroke="#2b2b2b" stroke-width="1.0" />
<text transform="translate(45.20,674.30) scale(1,1.080)" font-size="13.5" text-anchor="end" >-2.6</text>
<line x1="51.30" y1="690.50" x2="54.50" y2="690.50" stroke="#2b2b2b" stroke-width="1.0" />
<line x1="49.30" y1="711.50" x2="54.50" y2="711.50" stroke="#2b2b2b" stroke-width="1.0" />
<text transform="translate(45.20,716.30) scale(1,1.080)" font-size="13.5" text-anchor="end" >-2.8</text>
<line x1="51.30" y1="732.50" x2="54.50" y2="732.50" stroke="#2b2b2b" stroke-width="1.0" />
<line x1="49.30" y1="753.50" x2="54.50" y2="753.50" stroke="#2b2b2b" stroke-width="1.0" />
<text transform="translate(45.20,758.30) scale(1,1.080)" font-size="13.5" text-anchor="end" >-3.0</text>
<line x1="54.50" y1="753.50" x2="54.50" y2="758.70" stroke="#2b2b2b" stroke-width="1.0" />
<text transform="translate(54.50,773.20) scale(1,1.080)" font-size="13.5" text-anchor="middle" >0</text>
<line x1="80.65" y1="753.50" x2="80.65" y2="756.70" stroke="#2b2b2b" stroke-width="1.0" />
<line x1="106.80" y1="753.50" x2="106.80" y2="758.70" stroke="#2b2b2b" stroke-width="1.0" />
<text transform="translate(106.80,773.20) scale(1,1.080)" font-size="13.5" text-anchor="middle" >1</text>
<line x1="132.95" y1="753.50" x2="132.95" y2="756.70" stroke="#2b2b2b" stroke-width="1.0" />
<line x1="159.10" y1="753.50" x2="159.10" y2="758.70" stroke="#2b2b2b" stroke-width="1.0" />
<text transform="translate(159.10,773.20) scale(1,1.080)" font-size="13.5" text-anchor="middle" >2</text>
<line x1="185.25" y1="753.50" x2="185.25" y2="756.70" stroke="#2b2b2b" stroke-width="1.0" />
<line x1="211.40" y1="753.50" x2="211.40" y2="758.70" stroke="#2b2b2b" stroke-width="1.0" />
<text transform="translate(211.40,773.20) scale(1,1.080)" font-size="13.5" text-anchor="middle" >3</text>
<line x1="237.55" y1="753.50" x2="237.55" y2="756.70" stroke="#2b2b2b" stroke-width="1.0" />
<line x1="263.70" y1="753.50" x2="263.70" y2="758.70" stroke="#2b2b2b" stroke-width="1.0" />
<text transform="translate(263.70,773.20) scale(1,1.080)" font-size="13.5" text-anchor="middle" >4</text>
<line x1="289.85" y1="753.50" x2="289.85" y2="756.70" stroke="#2b2b2b" stroke-width="1.0" />
<line x1="316.00" y1="753.50" x2="316.00" y2="758.70" stroke="#2b2b2b" stroke-width="1.0" />
<text transform="translate(316.00,773.20) scale(1,1.080)" font-size="13.5" text-anchor="middle" >5</text>
<text transform="translate(185.80,793.60) scale(1,1.080)" font-size="14.3" text-anchor="middle" >Time (h)</text>
<text transform="translate(12.00,648.30) rotate(-90) scale(1,1.080)" font-size="14" text-anchor="middle" ><tspan font-style="italic">E</tspan><tspan font-size="9.5" dy="3">cell</tspan><tspan dy="-3"> (V)</tspan></text>
<text transform="translate(66.20,564.80) scale(1,1.080)" font-size="12.8" text-anchor="start" >ITM: WSM1</text>
<text transform="translate(66.20,580.60) scale(1,1.080)" font-size="12.8" text-anchor="start" >Cathode: Cu</text>
<text transform="translate(66.20,597.30) scale(1,1.080)" font-size="12.8" text-anchor="start" >At 200 mA cm<tspan font-size="8.8" dy="-5">-2</tspan></text>
<text transform="translate(357.40,544.90) scale(1,1.040)" font-size="15.5" text-anchor="start" font-weight="bold">e</text>
<rect x="441.70" y="725.69" width="24.60" height="30.71" fill="#e5817d" stroke="#8c8c8c" stroke-width="0.6"/>
<rect x="441.70" y="718.38" width="24.60" height="7.31" fill="#ea9797" stroke="#8c8c8c" stroke-width="0.6"/>
<rect x="441.70" y="707.31" width="24.60" height="11.07" fill="#fbbfa2" stroke="#8c8c8c" stroke-width="0.6"/>
<rect x="441.70" y="661.14" width="24.60" height="46.17" fill="#fee9b8" stroke="#8c8c8c" stroke-width="0.6"/>
<rect x="441.70" y="635.86" width="24.60" height="25.28" fill="#62c2d9" stroke="#8c8c8c" stroke-width="0.6"/>
<rect x="441.70" y="562.12" width="24.60" height="73.74" fill="#bfd9ea" stroke="#8c8c8c" stroke-width="0.6"/>
<rect x="441.70" y="556.69" width="24.60" height="5.43" fill="#a3b7de" stroke="#8c8c8c" stroke-width="0.6"/>
<line x1="454.00" y1="721.51" x2="454.00" y2="729.87" stroke="#111" stroke-width="1.2" />
<line x1="451.70" y1="721.51" x2="456.30" y2="721.51" stroke="#111" stroke-width="1.2" />
<line x1="451.70" y1="729.87" x2="456.30" y2="729.87" stroke="#111" stroke-width="1.2" />
<line x1="454.00" y1="716.29" x2="454.00" y2="720.47" stroke="#111" stroke-width="1.2" />
<line x1="451.70" y1="716.29" x2="456.30" y2="716.29" stroke="#111" stroke-width="1.2" />
<line x1="451.70" y1="720.47" x2="456.30" y2="720.47" stroke="#111" stroke-width="1.2" />
<line x1="454.00" y1="706.26" x2="454.00" y2="708.35" stroke="#111" stroke-width="1.2" />
<line x1="451.70" y1="706.26" x2="456.30" y2="706.26" stroke="#111" stroke-width="1.2" />
<line x1="451.70" y1="708.35" x2="456.30" y2="708.35" stroke="#111" stroke-width="1.2" />
<line x1="454.00" y1="659.89" x2="454.00" y2="662.39" stroke="#111" stroke-width="1.2" />
<line x1="451.70" y1="659.89" x2="456.30" y2="659.89" stroke="#111" stroke-width="1.2" />
<line x1="451.70" y1="662.39" x2="456.30" y2="662.39" stroke="#111" stroke-width="1.2" />
<line x1="454.00" y1="633.78" x2="454.00" y2="637.95" stroke="#111" stroke-width="1.2" />
<line x1="451.70" y1="633.78" x2="456.30" y2="633.78" stroke="#111" stroke-width="1.2" />
<line x1="451.70" y1="637.95" x2="456.30" y2="637.95" stroke="#111" stroke-width="1.2" />
<line x1="454.00" y1="558.99" x2="454.00" y2="565.26" stroke="#111" stroke-width="1.2" />
<line x1="451.70" y1="558.99" x2="456.30" y2="558.99" stroke="#111" stroke-width="1.2" />
<line x1="451.70" y1="565.26" x2="456.30" y2="565.26" stroke="#111" stroke-width="1.2" />
<line x1="454.00" y1="555.02" x2="454.00" y2="558.36" stroke="#111" stroke-width="1.2" />
<line x1="451.70" y1="555.02" x2="456.30" y2="555.02" stroke="#111" stroke-width="1.2" />
<line x1="451.70" y1="558.36" x2="456.30" y2="558.36" stroke="#111" stroke-width="1.2" />
<rect x="486.10" y="711.70" width="24.60" height="44.70" fill="#e5817d" stroke="#8c8c8c" stroke-width="0.6"/>
<rect x="486.10" y="703.34" width="24.60" height="8.36" fill="#ea9797" stroke="#8c8c8c" stroke-width="0.6"/>
<rect x="486.10" y="693.52" width="24.60" height="9.82" fill="#fbbfa2" stroke="#8c8c8c" stroke-width="0.6"/>
<rect x="486.10" y="653.41" width="24.60" height="40.11" fill="#fee9b8" stroke="#8c8c8c" stroke-width="0.6"/>
<rect x="486.10" y="630.64" width="24.60" height="22.77" fill="#62c2d9" stroke="#8c8c8c" stroke-width="0.6"/>
<rect x="486.10" y="564.21" width="24.60" height="66.43" fill="#bfd9ea" stroke="#8c8c8c" stroke-width="0.6"/>
<rect x="486.10" y="559.83" width="24.60" height="4.39" fill="#a3b7de" stroke="#8c8c8c" stroke-width="0.6"/>
<line x1="498.40" y1="710.02" x2="498.40" y2="713.37" stroke="#111" stroke-width="1.2" />
<line x1="496.10" y1="710.02" x2="500.70" y2="710.02" stroke="#111" stroke-width="1.2" />
<line x1="496.10" y1="713.37" x2="500.70" y2="713.37" stroke="#111" stroke-width="1.2" />
<line x1="498.40" y1="702.29" x2="498.40" y2="704.38" stroke="#111" stroke-width="1.2" />
<line x1="496.10" y1="702.29" x2="500.70" y2="702.29" stroke="#111" stroke-width="1.2" />
<line x1="496.10" y1="704.38" x2="500.70" y2="704.38" stroke="#111" stroke-width="1.2" />
<line x1="498.40" y1="691.43" x2="498.40" y2="695.61" stroke="#111" stroke-width="1.2" />
<line x1="496.10" y1="691.43" x2="500.70" y2="691.43" stroke="#111" stroke-width="1.2" />
<line x1="496.10" y1="695.61" x2="500.70" y2="695.61" stroke="#111" stroke-width="1.2" />
<line x1="498.40" y1="651.74" x2="498.40" y2="655.08" stroke="#111" stroke-width="1.2" />
<line x1="496.10" y1="651.74" x2="500.70" y2="651.74" stroke="#111" stroke-width="1.2" />
<line x1="496.10" y1="655.08" x2="500.70" y2="655.08" stroke="#111" stroke-width="1.2" />
<line x1="498.40" y1="628.55" x2="498.40" y2="632.73" stroke="#111" stroke-width="1.2" />
<line x1="496.10" y1="628.55" x2="500.70" y2="628.55" stroke="#111" stroke-width="1.2" />
<line x1="496.10" y1="632.73" x2="500.70" y2="632.73" stroke="#111" stroke-width="1.2" />
<line x1="498.40" y1="560.45" x2="498.40" y2="567.97" stroke="#111" stroke-width="1.2" />
<line x1="496.10" y1="560.45" x2="500.70" y2="560.45" stroke="#111" stroke-width="1.2" />
<line x1="496.10" y1="567.97" x2="500.70" y2="567.97" stroke="#111" stroke-width="1.2" />
<line x1="498.40" y1="558.57" x2="498.40" y2="561.08" stroke="#111" stroke-width="1.2" />
<line x1="496.10" y1="558.57" x2="500.70" y2="558.57" stroke="#111" stroke-width="1.2" />
<line x1="496.10" y1="561.08" x2="500.70" y2="561.08" stroke="#111" stroke-width="1.2" />
<rect x="530.40" y="700.00" width="24.60" height="56.40" fill="#e5817d" stroke="#8c8c8c" stroke-width="0.6"/>
<rect x="530.40" y="693.73" width="24.60" height="6.27" fill="#ea9797" stroke="#8c8c8c" stroke-width="0.6"/>
<rect x="530.40" y="682.66" width="24.60" height="11.07" fill="#fbbfa2" stroke="#8c8c8c" stroke-width="0.6"/>
<rect x="530.40" y="644.43" width="24.60" height="38.23" fill="#fee9b8" stroke="#8c8c8c" stroke-width="0.6"/>
<rect x="530.40" y="623.54" width="24.60" height="20.89" fill="#62c2d9" stroke="#8c8c8c" stroke-width="0.6"/>
<rect x="530.40" y="560.45" width="24.60" height="63.09" fill="#bfd9ea" stroke="#8c8c8c" stroke-width="0.6"/>
<rect x="530.40" y="556.69" width="24.60" height="3.76" fill="#a3b7de" stroke="#8c8c8c" stroke-width="0.6"/>
<line x1="542.70" y1="697.91" x2="542.70" y2="702.09" stroke="#111" stroke-width="1.2" />
<line x1="540.40" y1="697.91" x2="545.00" y2="697.91" stroke="#111" stroke-width="1.2" />
<line x1="540.40" y1="702.09" x2="545.00" y2="702.09" stroke="#111" stroke-width="1.2" />
<line x1="542.70" y1="691.22" x2="542.70" y2="696.24" stroke="#111" stroke-width="1.2" />
<line x1="540.40" y1="691.22" x2="545.00" y2="691.22" stroke="#111" stroke-width="1.2" />
<line x1="540.40" y1="696.24" x2="545.00" y2="696.24" stroke="#111" stroke-width="1.2" />
<line x1="542.70" y1="680.99" x2="542.70" y2="684.33" stroke="#111" stroke-width="1.2" />
<line x1="540.40" y1="680.99" x2="545.00" y2="680.99" stroke="#111" stroke-width="1.2" />
<line x1="540.40" y1="684.33" x2="545.00" y2="684.33" stroke="#111" stroke-width="1.2" />
<line x1="542.70" y1="643.18" x2="542.70" y2="645.68" stroke="#111" stroke-width="1.2" />
<line x1="540.40" y1="643.18" x2="545.00" y2="643.18" stroke="#111" stroke-width="1.2" />
<line x1="540.40" y1="645.68" x2="545.00" y2="645.68" stroke="#111" stroke-width="1.2" />
<line x1="542.70" y1="621.45" x2="542.70" y2="625.63" stroke="#111" stroke-width="1.2" />
<line x1="540.40" y1="621.45" x2="545.00" y2="621.45" stroke="#111" stroke-width="1.2" />
<line x1="540.40" y1="625.63" x2="545.00" y2="625.63" stroke="#111" stroke-width="1.2" />
<line x1="542.70" y1="557.32" x2="542.70" y2="563.59" stroke="#111" stroke-width="1.2" />
<line x1="540.40" y1="557.32" x2="545.00" y2="557.32" stroke="#111" stroke-width="1.2" />
<line x1="540.40" y1="563.59" x2="545.00" y2="563.59" stroke="#111" stroke-width="1.2" />
<line x1="542.70" y1="555.02" x2="542.70" y2="558.36" stroke="#111" stroke-width="1.2" />
<line x1="540.40" y1="555.02" x2="545.00" y2="555.02" stroke="#111" stroke-width="1.2" />
<line x1="540.40" y1="558.36" x2="545.00" y2="558.36" stroke="#111" stroke-width="1.2" />
<path d="M409.5,547.5 L671.5,547.5 L671.5,756.4 L409.5,756.4 Z" fill="none" stroke="#2e2e2e" stroke-width="1.15" stroke-linejoin="round"/>
<line x1="404.30" y1="547.50" x2="409.50" y2="547.50" stroke="#2b2b2b" stroke-width="1.0" />
<text transform="translate(401.00,551.30) scale(1,1.040)" font-size="13.8" text-anchor="end" >100</text>
<line x1="406.30" y1="568.39" x2="409.50" y2="568.39" stroke="#2b2b2b" stroke-width="1.0" />
<line x1="404.30" y1="589.28" x2="409.50" y2="589.28" stroke="#2b2b2b" stroke-width="1.0" />
<text transform="translate(401.00,593.08) scale(1,1.040)" font-size="13.8" text-anchor="end" >80</text>
<line x1="406.30" y1="610.17" x2="409.50" y2="610.17" stroke="#2b2b2b" stroke-width="1.0" />
<line x1="404.30" y1="631.06" x2="409.50" y2="631.06" stroke="#2b2b2b" stroke-width="1.0" />
<text transform="translate(401.00,634.86) scale(1,1.040)" font-size="13.8" text-anchor="end" >60</text>
<line x1="406.30" y1="651.95" x2="409.50" y2="651.95" stroke="#2b2b2b" stroke-width="1.0" />
<line x1="404.30" y1="672.84" x2="409.50" y2="672.84" stroke="#2b2b2b" stroke-width="1.0" />
<text transform="translate(401.00,676.64) scale(1,1.040)" font-size="13.8" text-anchor="end" >40</text>
<line x1="406.30" y1="693.73" x2="409.50" y2="693.73" stroke="#2b2b2b" stroke-width="1.0" />
<line x1="404.30" y1="714.62" x2="409.50" y2="714.62" stroke="#2b2b2b" stroke-width="1.0" />
<text transform="translate(401.00,718.42) scale(1,1.040)" font-size="13.8" text-anchor="end" >20</text>
<line x1="406.30" y1="735.51" x2="409.50" y2="735.51" stroke="#2b2b2b" stroke-width="1.0" />
<line x1="404.30" y1="756.40" x2="409.50" y2="756.40" stroke="#2b2b2b" stroke-width="1.0" />
<text transform="translate(401.00,760.20) scale(1,1.040)" font-size="13.8" text-anchor="end" >0</text>
<line x1="409.40" y1="756.40" x2="409.40" y2="761.60" stroke="#2b2b2b" stroke-width="1.0" />
<line x1="453.80" y1="756.40" x2="453.80" y2="761.60" stroke="#2b2b2b" stroke-width="1.0" />
<line x1="498.20" y1="756.40" x2="498.20" y2="761.60" stroke="#2b2b2b" stroke-width="1.0" />
<line x1="542.60" y1="756.40" x2="542.60" y2="761.60" stroke="#2b2b2b" stroke-width="1.0" />
<line x1="587.00" y1="756.40" x2="587.00" y2="761.60" stroke="#2b2b2b" stroke-width="1.0" />
<line x1="631.40" y1="756.40" x2="631.40" y2="761.60" stroke="#2b2b2b" stroke-width="1.0" />
<text transform="translate(454.00,775.60) scale(1,1.040)" font-size="13.5" text-anchor="middle" >1</text>
<text transform="translate(498.40,775.60) scale(1,1.040)" font-size="13.5" text-anchor="middle" >3</text>
<text transform="translate(542.80,775.60) scale(1,1.040)" font-size="13.5" text-anchor="middle" >5</text>
<text transform="translate(540.40,795.30) scale(1,1.040)" font-size="14" text-anchor="middle" >Time (h)</text>
<text transform="translate(373.20,651.00) rotate(-90) scale(1,1.040)" font-size="14" text-anchor="middle" ><tspan font-style="italic">FE</tspan> (%)</text>
<rect x="578.3" y="592.40" width="17.5" height="7.2" fill="#a3b7de" stroke="#8c8c8c" stroke-width="0.6"/>
<text transform="translate(605.60,599.90) scale(1,1.040)" font-size="12.5" text-anchor="start" >C<tspan font-size="9" dy="3">3</tspan><tspan dy="-3">H</tspan><tspan font-size="9" dy="3">7</tspan><tspan dy="-3">OH</tspan></text>
<rect x="578.3" y="611.40" width="17.5" height="7.2" fill="#bfd9ea" stroke="#8c8c8c" stroke-width="0.6"/>
<text transform="translate(605.60,618.90) scale(1,1.040)" font-size="12.5" text-anchor="start" >C<tspan font-size="9" dy="3">2</tspan><tspan dy="-3">H</tspan><tspan font-size="9" dy="3">4</tspan></text>
<rect x="578.3" y="632.00" width="17.5" height="7.2" fill="#62c2d9" stroke="#8c8c8c" stroke-width="0.6"/>
<text transform="translate(605.60,639.50) scale(1,1.040)" font-size="12.5" text-anchor="start" >CH<tspan font-size="9" dy="3">3</tspan><tspan dy="-3">COO</tspan><tspan font-size="9" dy="-4">-</tspan></text>
<rect x="578.3" y="650.60" width="17.5" height="7.2" fill="#fee9b8" stroke="#8c8c8c" stroke-width="0.6"/>
<text transform="translate(605.60,658.10) scale(1,1.040)" font-size="12.5" text-anchor="start" >C<tspan font-size="9" dy="3">2</tspan><tspan dy="-3">H</tspan><tspan font-size="9" dy="3">5</tspan><tspan dy="-3">OH</tspan></text>
<rect x="578.3" y="670.70" width="17.5" height="7.2" fill="#fbbfa2" stroke="#8c8c8c" stroke-width="0.6"/>
<text transform="translate(605.60,678.20) scale(1,1.040)" font-size="12.5" text-anchor="start" >HCOO<tspan font-size="9" dy="-4">-</tspan></text>
<rect x="578.3" y="686.40" width="17.5" height="7.2" fill="#ea9797" stroke="#8c8c8c" stroke-width="0.6"/>
<text transform="translate(605.60,693.90) scale(1,1.040)" font-size="12.5" text-anchor="start" >CO</text>
<rect x="578.3" y="702.30" width="17.5" height="7.2" fill="#e5817d" stroke="#8c8c8c" stroke-width="0.6"/>
<text transform="translate(605.60,709.80) scale(1,1.040)" font-size="12.5" text-anchor="start" >H<tspan font-size="9" dy="3">2</tspan></text>
</svg>
</body></html>
